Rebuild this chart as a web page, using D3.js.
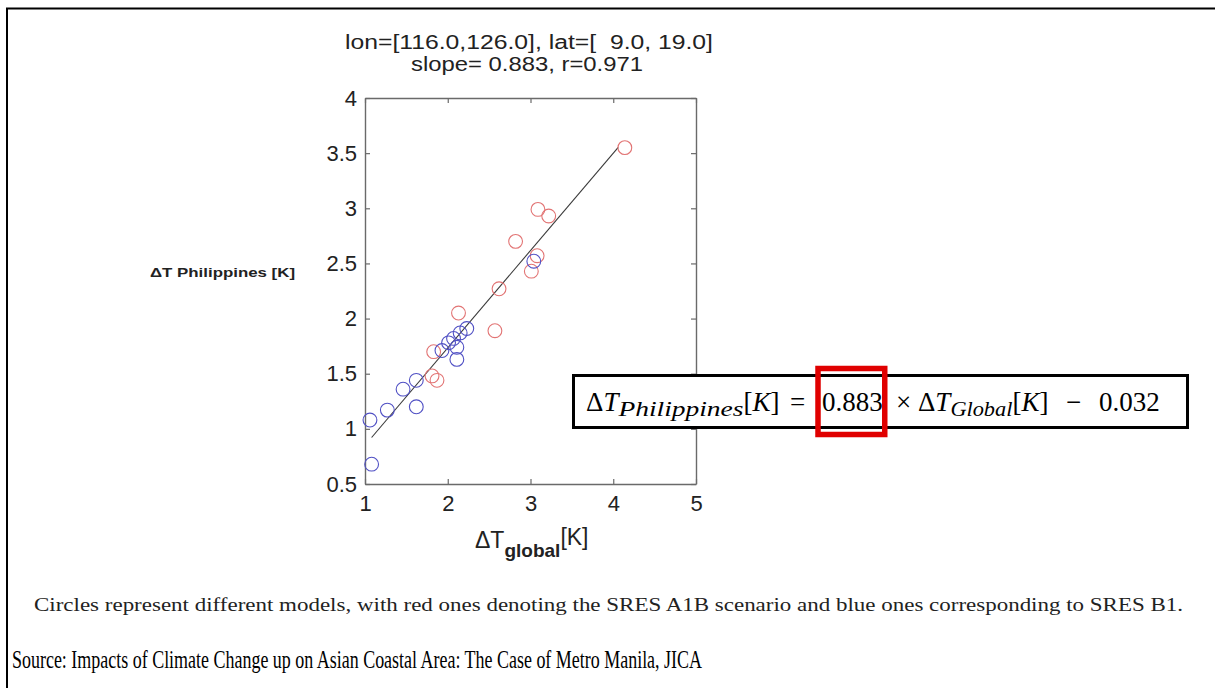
<!DOCTYPE html>
<html>
<head>
<meta charset="utf-8">
<script src="https://cdn.jsdelivr.net/npm/d3@7"></script>
<style>
  html, body { margin: 0; padding: 0; background: #fff; }
  svg { display: block; }
</style>
</head>
<body>
<svg id="fig" width="1215" height="688"></svg>
<script>
// ---- data -------------------------------------------------------------
// SRES A1B runs (red): [ΔT global, ΔT Philippines]
const a1bGlobal = [4.14, 3.09, 3.22, 2.82, 3.08, 3.01, 2.62, 2.57, 2.13, 1.83, 1.81, 1.87];
const a1bLocal  = [3.55, 2.99, 2.93, 2.70, 2.57, 2.43, 2.27, 1.89, 2.05, 1.70, 1.48, 1.44];
// SRES B1 runs (blue)
const b1Global = [3.04, 2.23, 2.15, 2.07, 2.01, 1.93, 2.11, 2.11, 1.62, 1.46, 1.27, 1.62, 1.06, 1.08];
const b1Local  = [2.52, 1.91, 1.87, 1.82, 1.78, 1.71, 1.74, 1.63, 1.44, 1.36, 1.17, 1.20, 1.08, 0.68];

const slope = 0.883, intercept = -0.032, corr = 0.971;
const fitRange = [1.08, 4.06];

const xTicks = [1, 2, 3, 4, 5];
const xTickLabels = ["1", "2", "3", "4", "5"];
const yTicks = [0.5, 1, 1.5, 2, 2.5, 3, 3.5, 4];
const yTickLabels = ["0.5", "1", "1.5", "2", "2.5", "3", "3.5", "4"];

const titleLines = ["lon=[116.0,126.0], lat=[  9.0, 19.0]", "slope= 0.883, r=0.971"];
const caption = "Circles represent different models, with red ones denoting the SRES A1B scenario and blue ones corresponding to SRES B1.";
const source = "Source: Impacts of Climate Change up on Asian Coastal Area: The Case of Metro Manila, JICA";

// ---- layout -----------------------------------------------------------
const svg = d3.select("#fig");
const plot = { left: 365, right: 696, top: 98, bottom: 484 };
const sans = "'Liberation Sans', Arial, sans-serif";
const serif = "'Liberation Serif', 'Times New Roman', serif";

// stretch or squeeze a text node horizontally to a given width
function fit(sel, w) {
  sel.attr("textLength", w).attr("lengthAdjust", "spacingAndGlyphs");
  return sel;
}

// page frame (top and left rules)
svg.append("line").attr("x1", 6).attr("x2", 1215).attr("y1", 8.5).attr("y2", 8.5)
  .attr("stroke", "#000").attr("stroke-width", 2);
svg.append("line").attr("x1", 7).attr("x2", 7).attr("y1", 8).attr("y2", 688)
  .attr("stroke", "#000").attr("stroke-width", 2);

const x = d3.scaleLinear().domain([1, 5]).range([plot.left, plot.right]);
const y = d3.scaleLinear().domain([0.5, 4]).range([plot.bottom, plot.top]);

const axisColor = "#6a6a6a";
function styleAxis(g) {
  g.select(".domain").attr("stroke", axisColor).attr("stroke-width", 1.4);
  g.selectAll(".tick line").attr("stroke", axisColor).attr("stroke-width", 1.2);
  g.selectAll(".tick text").attr("fill", "#222").attr("font-family", sans).attr("font-size", 22);
}

const gx = svg.append("g").attr("transform", `translate(0,${plot.bottom})`)
  .call(d3.axisBottom(x).tickValues(xTicks).tickFormat((d, i) => xTickLabels[i])
    .tickSizeInner(-5).tickSizeOuter(0).tickPadding(11));
styleAxis(gx);

const gy = svg.append("g").attr("transform", `translate(${plot.left},0)`)
  .call(d3.axisLeft(y).tickValues(yTicks).tickFormat((d, i) => yTickLabels[i])
    .tickSizeInner(-5).tickSizeOuter(0).tickPadding(8));
styleAxis(gy);

const gt = svg.append("g").attr("transform", `translate(0,${plot.top})`)
  .call(d3.axisTop(x).tickValues(xTicks).tickFormat("").tickSizeInner(-5).tickSizeOuter(0));
styleAxis(gt);

const gr = svg.append("g").attr("transform", `translate(${plot.right},0)`)
  .call(d3.axisRight(y).tickValues(yTicks).tickFormat("").tickSizeInner(-5).tickSizeOuter(0));
styleAxis(gr);

// least-squares fit line
svg.append("line")
  .attr("x1", x(fitRange[0])).attr("y1", y(slope * fitRange[0] + intercept))
  .attr("x2", x(fitRange[1])).attr("y2", y(slope * fitRange[1] + intercept))
  .attr("stroke", "#3a3a3a").attr("stroke-width", 1.1);

// model circles
const r = 6.9;
svg.append("g").selectAll("circle")
  .data(a1bGlobal.map((g, i) => [g, a1bLocal[i]]))
  .join("circle")
  .attr("cx", d => x(d[0])).attr("cy", d => y(d[1])).attr("r", r)
  .attr("fill", "none").attr("stroke", "#e27474").attr("stroke-width", 1.1);
svg.append("g").selectAll("circle")
  .data(b1Global.map((g, i) => [g, b1Local[i]]))
  .join("circle")
  .attr("cx", d => x(d[0])).attr("cy", d => y(d[1])).attr("r", r)
  .attr("fill", "none").attr("stroke", "#5050c4").attr("stroke-width", 1.1);

// title
fit(svg.append("text").attr("x", 345).attr("y", 49).attr("font-family", sans)
  .attr("font-size", 20).attr("fill", "#222").attr("xml:space", "preserve")
  .text(titleLines[0]), 368);
fit(svg.append("text").attr("x", 411).attr("y", 71).attr("font-family", sans)
  .attr("font-size", 20).attr("fill", "#222").text(titleLines[1]), 232);

// y axis label
fit(svg.append("text").attr("x", 150).attr("y", 277).attr("font-family", sans)
  .attr("font-size", 13).attr("font-weight", "bold").attr("fill", "#222")
  .text("ΔT Philippines [K]"), 145);

// x axis label
const xl = svg.append("text").attr("x", 475).attr("y", 548).attr("font-family", sans)
  .attr("font-size", 23).attr("fill", "#222");
xl.append("tspan").text("ΔT");
xl.append("tspan").attr("dy", 9).attr("font-size", 19).attr("font-weight", "bold").text("global");
xl.append("tspan").attr("dy", -12).text("[K]");

// regression equation box
svg.append("rect").attr("x", 573.5).attr("y", 375.5).attr("width", 614).attr("height", 52)
  .attr("fill", "#fff").attr("stroke", "#000").attr("stroke-width", 3);

const eqBase = 411;
const eq = svg.append("text").attr("y", eqBase)
  .attr("font-family", serif).attr("font-size", 27).attr("fill", "#000");
const sub = 20;
eq.append("tspan").attr("x", 586).text("Δ");
eq.append("tspan").attr("font-style", "italic").text("T");
eq.append("tspan").attr("font-style", "italic").attr("font-size", sub).attr("dy", 5)
  .attr("textLength", 125).attr("lengthAdjust", "spacingAndGlyphs").text("Philippines");
eq.append("tspan").attr("dy", -5).text("[");
eq.append("tspan").attr("font-style", "italic").text("K");
eq.append("tspan").text("]");
eq.append("tspan").attr("x", 790).text("=");
eq.append("tspan").attr("x", 822).text(slope.toFixed(3));
eq.append("tspan").attr("x", 896).text("× Δ");
eq.append("tspan").attr("font-style", "italic").text("T");
eq.append("tspan").attr("font-style", "italic").attr("font-size", sub).attr("dy", 5)
  .attr("textLength", 62).attr("lengthAdjust", "spacingAndGlyphs").text("Global");
eq.append("tspan").attr("dy", -5).text("[");
eq.append("tspan").attr("font-style", "italic").text("K");
eq.append("tspan").text("]");
eq.append("tspan").attr("x", 1066).text("−");
eq.append("tspan").attr("x", 1099).text(Math.abs(intercept).toFixed(3));

// outline the slope value in red
const eqNode = eq.node();
const full = eqNode.textContent;
const si = full.indexOf(slope.toFixed(3));
const s0 = eqNode.getStartPositionOfChar(si).x;
const s1 = eqNode.getEndPositionOfChar(si + 4).x;
svg.append("rect")
  .attr("x", s0 - 4).attr("y", 368.5)
  .attr("width", (s1 - s0) + 6).attr("height", 66)
  .attr("fill", "none").attr("stroke", "#e00000").attr("stroke-width", 5.5);

// caption and source
fit(svg.append("text").attr("x", 34).attr("y", 611).attr("font-family", serif)
  .attr("font-size", 19.5).attr("fill", "#222").text(caption), 1149);
fit(svg.append("text").attr("x", 12).attr("y", 668).attr("font-family", serif)
  .attr("font-size", 26).attr("fill", "#000").text(source), 690);
</script>
</body>
</html>
